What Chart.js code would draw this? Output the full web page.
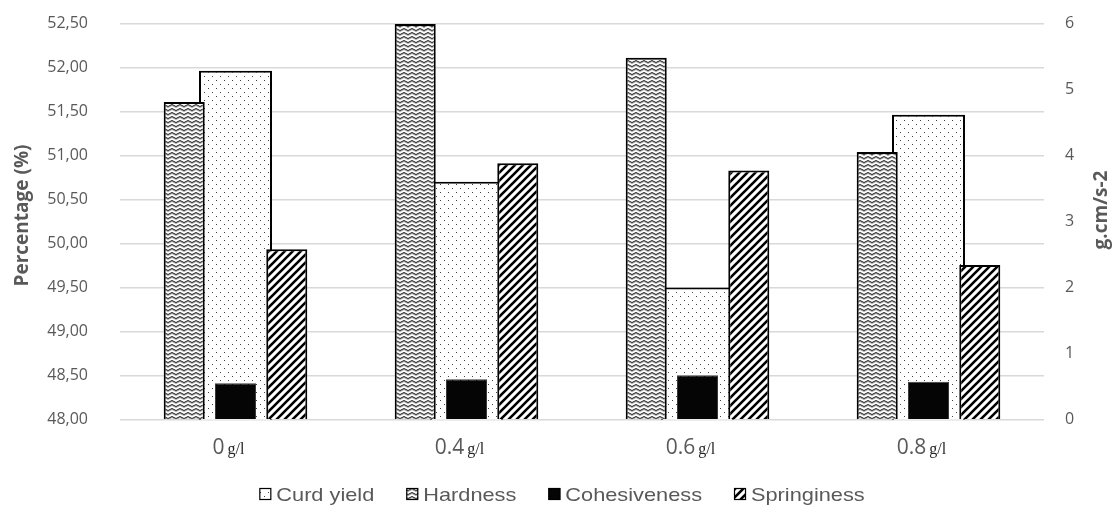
<!DOCTYPE html>
<html>
<head>
<meta charset="utf-8">
<script src="https://cdn.jsdelivr.net/npm/chart.js@4.4.0/dist/chart.umd.min.js"></script>
<style>
  html, body { margin: 0; padding: 0; background: #ffffff; }
  #wrap { width: 1114px; height: 505px; }
</style>
</head>
<body>
<div id="wrap"><canvas id="c" width="1114" height="505"></canvas></div>
<script>
// Concentration groups and the unit shown after each number
const categories = ['0', '0.4', '0.6', '0.8'];
const unitLabel = 'g/l';

// Curd yield (%), left axis
const curdYield = [51.96, 50.70, 49.50, 51.46];
// Texture measures (g.cm/s-2), right axis
const hardness = [4.81, 5.99, 5.48, 4.05];
const cohesiveness = [0.55, 0.61, 0.67, 0.57];
const springiness = [2.58, 3.88, 3.77, 2.34];

// Axis ranges
const percentRange = [48, 52.5];
const percentStep = 0.5;
const forceRange = [0, 6];
const forceStep = 1;

const seriesNames = ['Curd yield', 'Hardness', 'Cohesiveness', 'Springiness'];

const canvas = document.getElementById('c');
const ctx = canvas.getContext('2d');

// ---- fill patterns -------------------------------------------------------
function makePattern(w, h, draw) {
  const t = document.createElement('canvas');
  t.width = w; t.height = h;
  const g = t.getContext('2d');
  g.fillStyle = '#ffffff';
  g.fillRect(0, 0, w, h);
  draw(g);
  return ctx.createPattern(t, 'repeat');
}

const dotPattern = makePattern(8, 8, g => {
  g.fillStyle = '#444444';
  g.fillRect(0, 0, 1, 1);
  g.fillRect(4, 4, 1, 1);
});

const wavePattern = makePattern(8, 4, g => {
  g.lineWidth = 1;
  g.strokeStyle = '#9a9a9a';
  g.beginPath();
  g.moveTo(0, 3.5); g.lineTo(4, 1.5); g.lineTo(8, 3.5);
  g.stroke();
  g.strokeStyle = '#1a1a1a';
  g.beginPath();
  g.moveTo(0, 2.5); g.lineTo(4, 0.5); g.lineTo(8, 2.5);
  g.stroke();
});

const stripePattern = makePattern(8, 8, g => {
  g.strokeStyle = '#000000';
  g.lineWidth = 2.6;
  g.lineCap = 'square';
  g.beginPath();
  g.moveTo(-1, 9); g.lineTo(9, -1);
  g.moveTo(-2, 2); g.lineTo(2, -2);
  g.moveTo(6, 10); g.lineTo(10, 6);
  g.stroke();
});

const TEXT_GREY = '#595959';
const NUM_FONT = '21px "Open Sans"';
const UNIT_FONT = '16px "Liberation Serif"';

// ---- decorations drawn around the plot ----------------------------------
const decorations = {
  id: 'decorations',
  afterDraw(chart) {
    const c = chart.ctx;
    const area = chart.chartArea;
    const xs = chart.scales.x;

    // category labels: number + small serif unit
    c.save();
    c.textBaseline = 'alphabetic';
    c.textAlign = 'left';
    categories.forEach((cat, i) => {
      const cx = xs.getPixelForValue(i);
      c.font = NUM_FONT;
      const w1 = c.measureText(cat).width;
      c.font = UNIT_FONT;
      const w2 = c.measureText(unitLabel).width;
      const start = cx - (w1 + 3 + w2) / 2 - 7;
      c.font = NUM_FONT;
      c.fillStyle = TEXT_GREY;
      c.fillText(cat, start, area.bottom + 34.5);
      c.font = UNIT_FONT;
      c.fillStyle = '#262626';
      c.fillText(unitLabel, start + w1 + 3, area.bottom + 34.5);
    });
    c.restore();

    // axis titles
    const titles = [
      { text: 'Percentage (%)', x: 23, y: 215.5 },
      { text: 'g.cm/s-2', x: 1102, y: 210 }
    ];
    titles.forEach(t => {
      c.save();
      c.fillStyle = TEXT_GREY;
      c.font = 'bold 19px "Open Sans"';
      c.textAlign = 'center';
      c.textBaseline = 'middle';
      c.translate(t.x, t.y);
      c.rotate(-Math.PI / 2);
      c.fillText(t.text, 0, 0);
      c.restore();
    });

    // legend
    const stretch = 1.17;
    const box = 12, gapText = 5, gapItem = 32;
    c.save();
    c.font = '18.6px "Liberation Sans"';
    const widths = chart.data.datasets.map(d => c.measureText(d.label).width * stretch);
    const total = widths.reduce((a, w) => a + box + gapText + w, 0) + gapItem * (widths.length - 1);
    let x = chart.width / 2 + 5 - total / 2;
    const y = 494;
    chart.data.datasets.forEach((d, i) => {
      c.fillStyle = d.backgroundColor;
      c.fillRect(x, y - box / 2, box, box);
      c.strokeStyle = '#000000';
      c.lineWidth = 1.2;
      c.strokeRect(x + 0.5, y - box / 2 + 0.5, box - 1, box - 1);
      c.save();
      c.translate(x + box + gapText, y + 7);
      c.scale(stretch, 1);
      c.fillStyle = TEXT_GREY;
      c.textAlign = 'left';
      c.textBaseline = 'alphabetic';
      c.fillText(d.label, 0, 0);
      c.restore();
      x += box + gapText + widths[i] + gapItem;
    });
    c.restore();
  }
};

const textureBar = {
  yAxisID: 'yForce',
  order: 1,
  categoryPercentage: 0.666,
  barPercentage: 0.8,
  borderColor: '#000000',
  borderWidth: 2
};

const HIDDEN = 'rgba(0,0,0,0)';

function buildChart() {
  new Chart(ctx, {
    type: 'bar',
    data: {
      labels: categories,
      datasets: [
        {
          label: seriesNames[0],
          data: curdYield,
          yAxisID: 'yPercent',
          grouped: false,
          order: 2,
          categoryPercentage: 1,
          barPercentage: 0.316,
          backgroundColor: dotPattern,
          borderColor: '#000000',
          borderWidth: 2
        },
        Object.assign({ label: seriesNames[1], data: hardness, backgroundColor: wavePattern }, textureBar),
        Object.assign({}, textureBar, { label: seriesNames[2], data: cohesiveness, backgroundColor: '#050505', borderColor: '#3a3a3a', borderWidth: 1 }),
        Object.assign({ label: seriesNames[3], data: springiness, backgroundColor: stripePattern }, textureBar)
      ]
    },
    options: {
      responsive: false,
      animation: false,
      events: [],
      layout: { padding: { top: 23.3, left: 0, right: 0, bottom: 0 } },
      plugins: { legend: { display: false }, tooltip: { enabled: false } },
      scales: {
        x: {
          type: 'category',
          grid: { display: false },
          border: { display: false },
          ticks: { display: false },
          afterFit(s) { s.height = 85.5; }
        },
        yPercent: {
          position: 'left',
          min: percentRange[0],
          max: percentRange[1],
          ticks: {
            stepSize: percentStep,
            padding: 0,
            color: TEXT_GREY,
            font: { family: '"Open Sans"', size: 16 },
            callback: v => Number(v).toFixed(2).replace('.', ',')
          },
          grid: { color: '#d9d9d9', lineWidth: 1.5, drawTicks: true, tickLength: 32, tickColor: HIDDEN },
          border: { display: false },
          afterFit(s) { s.width = 120; }
        },
        yForce: {
          position: 'right',
          min: forceRange[0],
          max: forceRange[1],
          ticks: {
            stepSize: forceStep,
            padding: 0,
            color: TEXT_GREY,
            font: { family: '"Open Sans"', size: 16 }
          },
          grid: { display: true, drawOnChartArea: false, drawTicks: true, tickLength: 21, tickColor: HIDDEN, color: HIDDEN },
          border: { display: false },
          afterFit(s) { s.width = 70; }
        }
      }
    },
    plugins: [decorations]
  });
}

// make sure the installed faces are ready before the canvas text is drawn
Promise.all([
  document.fonts.load('16px "Open Sans"', '0123456789,.'),
  document.fonts.load('bold 19px "Open Sans"', 'Percentage'),
  document.fonts.load(UNIT_FONT, 'g/l'),
  document.fonts.load('18.6px "Liberation Sans"', 'Curd yield')
]).catch(() => {}).then(buildChart);
</script>
</body>
</html>
